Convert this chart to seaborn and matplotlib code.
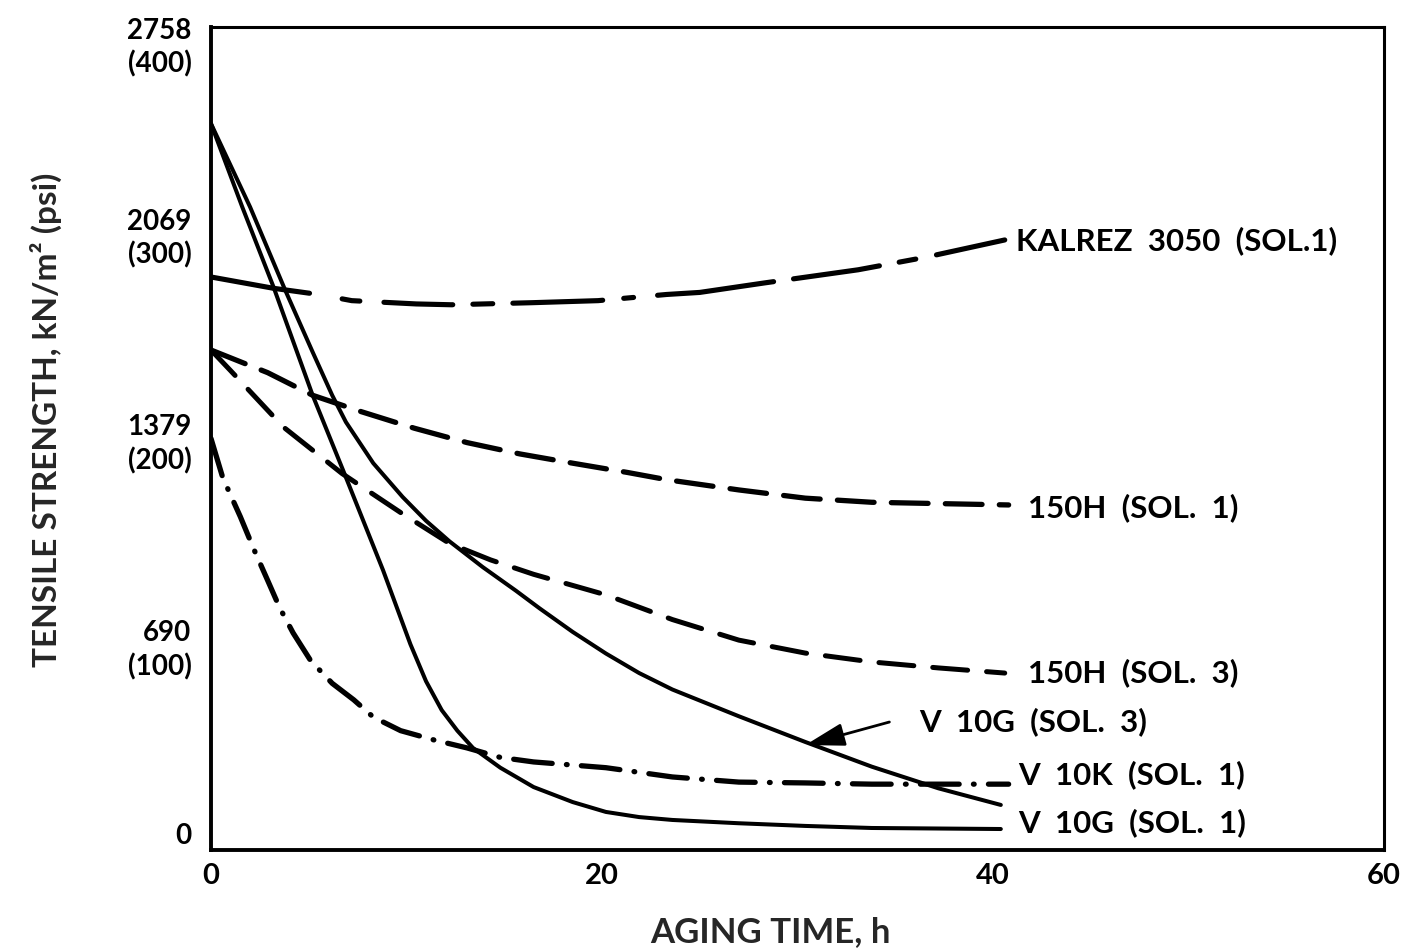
import matplotlib
matplotlib.use("Agg")
import matplotlib.pyplot as plt
from matplotlib.transforms import ScaledTranslation
import seaborn as sns
import pandas as pd

# ---------------- data (aging time h, tensile strength psi) ----------------
kalrez_h = [0, 3.2, 5.5, 7.2, 10.5, 12.3, 16.4, 19.8, 23.3, 25, 28.3, 33.1, 36.5, 40.6]
kalrez_v = [278.5, 273, 270, 267, 265.4, 265, 266, 267, 270, 271, 275.6, 282, 288, 296.5]

h150_s1_h = [0, 2.9, 5.2, 7.7, 10.4, 13.1, 15.8, 18.5, 21.3, 23.3, 27, 30.4, 33.8, 40.8]
h150_s1_v = [243, 232, 221, 213, 205, 198, 192.5, 188, 183.5, 180, 175, 171, 169, 167.7]

h150_s3_h = [0, 1, 3.7, 6.7, 9.7, 12.2, 14.3, 16.5, 20.2, 23.6, 27, 30.4, 33.8, 37.2, 40.6]
h150_s3_v = [243, 233, 205.6, 183, 164, 149, 141, 134, 124, 112, 102, 95.7, 91.4, 88.5, 86]

v10g_s3_h = [0, 2, 3.8, 5.2, 6.2, 6.9, 8.3, 9.8, 11.0, 12.2, 13.9, 15.6, 16.8, 18.5,
             20.2, 21.9, 23.6, 27, 30.4, 33.8, 37.2, 40.4]
v10g_s3_v = [353, 312.5, 272, 242, 221, 208, 188, 171.6, 160, 150, 137.5, 126, 117.5,
             106, 95.5, 86, 78, 65, 52.5, 40.5, 30, 21.9]

v10g_s1_h = [0, 1.6, 3.2, 5.2, 6.75, 8.8, 10.2, 11.0, 11.8, 12.6, 13.4, 14.8, 16.5,
             18.5, 20.2, 21.9, 23.6, 27, 30.4, 33.8, 40.4]
v10g_s1_v = [353, 312.5, 273.6, 221, 184.7, 136, 100, 82, 68, 58, 49.6, 40, 30.6,
             23.3, 18.5, 16, 14.6, 13, 11.7, 10.7, 10.2]

v10k_s1_h = [0, 0.6, 1.5, 2.2, 2.9, 3.5, 4.2, 5.1, 6.2, 7.3, 8.3, 9.7, 11.4, 13.1,
             14.8, 16.5, 20.2, 23.6, 27, 30.4, 33.8, 40.8]
v10k_s1_v = [200, 181, 162, 146, 131, 118, 105.5, 92, 81, 73, 64.6, 58, 53.5, 49.6,
             45, 42.8, 40, 35.5, 33, 32.6, 32, 32]

series_labels = ["KALREZ  3050  (SOL.1)", "150H  (SOL.  1)", "150H  (SOL.  3)",
                 "V  10G  (SOL.  3)", "V  10K  (SOL.  1)", "V  10G  (SOL.  1)"]

x_ticks = [0, 20, 40, 60]
x_ticklabels = ["0", "20", "40", "60"]
y_ticks_psi = [0, 100, 200, 300, 400]
y_ticklabels = ["0", "690\n(100)", "1379\n(200)", "2069\n(300)", "2758\n(400)"]

# ---------------- style ----------------
sns.set_style("white")
plt.rcParams['font.family'] = ['Lato', 'DejaVu Sans']
plt.rcParams['font.weight'] = 'bold'
plt.rcParams['lines.scale_dashes'] = False

W, H = 1409, 952
fig = plt.figure(figsize=(W / 100, H / 100), dpi=100)
L, R, B, T = 211, 1384, 850, 27
ax = fig.add_axes([L / W, 1 - B / H, (R - L) / W, (B - T) / H])

PX = 0.72  # points per pixel


def draw(h, v, lw, dashes_px=None):
    df = pd.DataFrame({"h": h, "v": v})
    sns.lineplot(data=df, x="h", y="v", ax=ax, color="black", linewidth=lw,
                 estimator=None, sort=False)
    line = ax.lines[-1]
    line.set_solid_capstyle("round")
    line.set_solid_joinstyle("round")
    line.set_dash_capstyle("round")
    line.set_dash_joinstyle("round")
    if dashes_px is not None:
        lwpx = lw / PX
        seq = []
        for i, d in enumerate(dashes_px):
            if i % 2 == 0:
                seq.append(max(d - lwpx, 0.5) * PX)
            else:
                seq.append((d + lwpx) * PX)
        line.set_dashes(seq)


kalrez_dash = [105, 28, 23, 19, 74, 15, 25, 15, 95, 16, 15, 19, 122, 15,
               92, 15, 22, 16, 90, 40]

draw(kalrez_h, kalrez_v, 3.7, kalrez_dash)
draw(h150_s1_h, h150_s1_v, 3.8, [42, 12])
draw(h150_s3_h, h150_s3_v, 3.6, [40, 14])
draw(v10g_s3_h, v10g_s3_v, 2.9)
draw(v10g_s1_h, v10g_s1_v, 2.9)
draw(v10k_s1_h, v10k_s1_v, 3.8, [44, 9, 6, 9])

# ---------------- axes ----------------
ax.set_xlim(0, 60)
ax.set_ylim(0, 400)
ax.set_xticks(x_ticks)
ax.set_xticklabels(x_ticklabels)
ax.set_yticks(y_ticks_psi)
ax.set_yticklabels(y_ticklabels, linespacing=1.3)
ax.tick_params(axis="both", direction="in", length=8, width=2.2, color="black",
               labelsize=20, labelcolor="black")
ax.tick_params(axis="y", pad=14)
ax.tick_params(axis="x", pad=9, labelsize=21)
for lab in ax.get_xticklabels() + ax.get_yticklabels():
    lab.set_fontweight("bold")
ax.set_xlabel("")
ax.set_ylabel("")
for side, w in [("left", 2.8), ("bottom", 2.8), ("top", 2.2), ("right", 2.2)]:
    ax.spines[side].set_visible(True)
    ax.spines[side].set_color("black")
    ax.spines[side].set_linewidth(w)

# shift the end labels like in the reference (top one lower, bottom one higher)
yt = ax.yaxis.get_major_ticks()
top_lab = yt[-1].label1
top_lab.set_transform(top_lab.get_transform() +
                      ScaledTranslation(0, -0.15, fig.dpi_scale_trans))
bot_lab = yt[0].label1
bot_lab.set_transform(bot_lab.get_transform() +
                      ScaledTranslation(0, 0.17, fig.dpi_scale_trans))

# ---------------- labels ----------------
txt = dict(fontsize=22.5, fontweight="bold", color="black", ha="left", va="center")
ax.text(41.2, 296, series_labels[0], **txt)
ax.text(41.8, 166.2, series_labels[1], **txt)
ax.text(41.8, 86, series_labels[2], **txt)
ax.text(36.2, 62.2, series_labels[3], **txt)
ax.text(41.3, 36.5, series_labels[4], **txt)
ax.text(41.3, 13.1, series_labels[5], **txt)

ax.annotate("", xy=(30.4, 51), xytext=(34.7, 62.2),
            arrowprops=dict(arrowstyle="-|>,head_length=1.1,head_width=0.32",
                            lw=2, color="black", mutation_scale=22,
                            shrinkA=0, shrinkB=0))

fig.text(770 / W, 1 - 932 / H, "AGING TIME, h", fontsize=25, fontweight="bold",
         ha="center", va="center")
fig.text(46 / W, 1 - 420 / H, "TENSILE STRENGTH, kN/m² (psi)", fontsize=24,
         fontweight="bold", rotation=90, ha="center", va="center")

fig.savefig("out.png", dpi=100, facecolor="white")
